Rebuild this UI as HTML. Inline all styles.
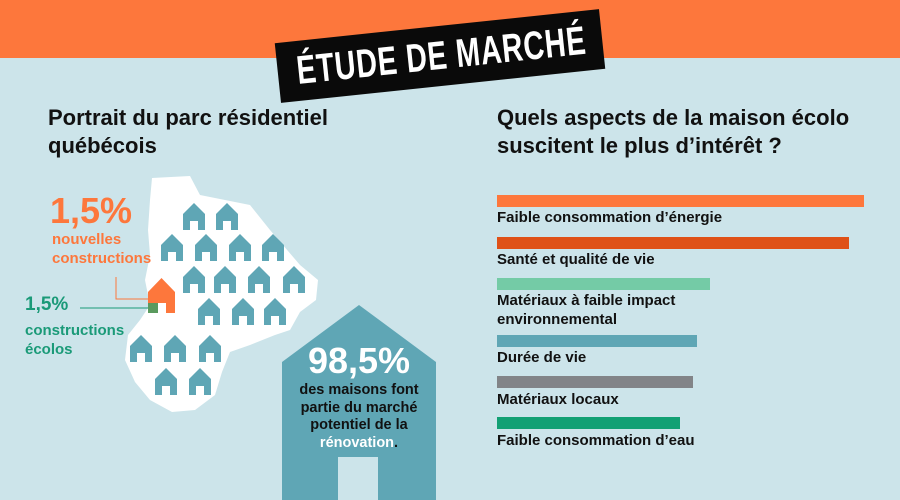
<!DOCTYPE html>
<html><head><meta charset="utf-8"><style>
body{margin:0;width:900px;height:500px;overflow:hidden;background:#cce4ea;font-family:"Liberation Sans",sans-serif;position:relative}
.t{position:absolute;font-weight:bold;color:#111}
.lab{position:absolute;left:497px;font-size:15px;font-weight:bold;color:#111;line-height:19px}
.bar{position:absolute;left:497px;height:12px}
</style></head><body>
<div style="position:absolute;left:0;top:0;width:900px;height:58px;background:#fd773c"></div>
<div style="position:absolute;left:277px;top:26px;width:326px;height:60px;background:#0a0a0a;transform:rotate(-6deg);"></div>
<div class="t" style="left:240px;top:34px;width:400px;text-align:center;color:#fff;font-size:40px;line-height:44px;white-space:nowrap;transform:rotate(-6deg) scaleX(0.72);letter-spacing:1px">ÉTUDE DE MARCHÉ</div>
<div class="t" style="left:48px;top:104px;font-size:22px;line-height:28px">Portrait du parc résidentiel<br>québécois</div>
<div class="t" style="left:497px;top:104px;font-size:22px;line-height:28px">Quels aspects de la maison écolo<br>suscitent le plus d’intérêt ?</div>
<svg style="position:absolute;left:0;top:0" width="900" height="500">
<polygon fill="#fff" points="152,178 190,176 200,195 250,205 270,230 300,265 318,280 316,300 300,312 290,330 275,335 250,345 230,352 222,372 215,395 195,410 172,412 150,400 135,382 125,360 128,335 140,320 150,305 145,280 150,255 148,230 150,200"/>
<g fill="#5fa6b5" id="h">
<path d="M183,214 l11,-11 l11,11 v16 h-7 v-9 h-8 v9 h-7z"/>
</g>
<g fill="#5fa6b5">
<use href="#h" x="33"/>
<use href="#h" x="-22" y="31"/><use href="#h" x="12" y="31"/><use href="#h" x="46" y="31"/><use href="#h" x="79" y="31"/>
<use href="#h" x="0" y="63"/><use href="#h" x="31" y="63"/><use href="#h" x="65" y="63"/><use href="#h" x="100" y="63"/>
<use href="#h" x="15" y="95"/><use href="#h" x="49" y="95"/><use href="#h" x="81" y="95"/>
<use href="#h" x="-53" y="132"/><use href="#h" x="-19" y="132"/><use href="#h" x="16" y="132"/>
<use href="#h" x="-28" y="165"/><use href="#h" x="6" y="165"/>
</g>
<path fill="#fd773c" d="M148,292 l13.5,-14 l13.5,14 v21 h-9 v-10 h-9 v10 h-9z"/>
<rect x="148" y="303" width="10" height="10" fill="#5a9a5e"/>
<polyline points="116,277 116,299 148,299" fill="none" stroke="#fd773c" stroke-width="1"/>
<line x1="80" y1="308" x2="148" y2="308" stroke="#1a9a78" stroke-width="1"/>
<path fill="#5fa6b5" d="M282,362 L359,305 L436,362 V500 H378 V457 H338 V500 H282z"/>
<rect x="338" y="457" width="40" height="43" fill="#cce4ea"/>
</svg>
<div class="t" style="left:50px;top:190px;font-size:36px;color:#fd773c">1,5%</div>
<div class="t" style="left:52px;top:230px;font-size:15px;line-height:19px;color:#fd773c">nouvelles<br>constructions</div>
<div class="t" style="left:25px;top:294px;font-size:19px;color:#1a9a78">1,5%</div>
<div class="t" style="left:25px;top:321px;font-size:15px;line-height:19px;color:#1a9a78">constructions<br>écolos</div>
<div class="t" style="left:282px;top:340px;width:154px;text-align:center;font-size:36px;color:#fff">98,5%</div>
<div class="t" style="left:282px;top:382px;width:154px;text-align:center;font-size:14.5px;line-height:17.5px">des maisons font<br>partie du marché<br>potentiel de la<br><span style="color:#fff">rénovation</span>.</div>
<div class="bar" style="top:195px;width:367px;background:#fd773c"></div>
<div class="bar" style="top:237px;width:352px;background:#df5117"></div>
<div class="bar" style="top:278px;width:213px;background:#74cba6"></div>
<div class="bar" style="top:335px;width:200px;background:#5fa6b5"></div>
<div class="bar" style="top:376px;width:196px;background:#828488"></div>
<div class="bar" style="top:417px;width:183px;background:#12a074"></div>
<div class="lab" style="top:208px">Faible consommation d’énergie</div>
<div class="lab" style="top:250px">Santé et qualité de vie</div>
<div class="lab" style="top:291px">Matériaux à faible impact<br>environnemental</div>
<div class="lab" style="top:348px">Durée de vie</div>
<div class="lab" style="top:390px">Matériaux locaux</div>
<div class="lab" style="top:431px">Faible consommation d’eau</div>
</body></html>
